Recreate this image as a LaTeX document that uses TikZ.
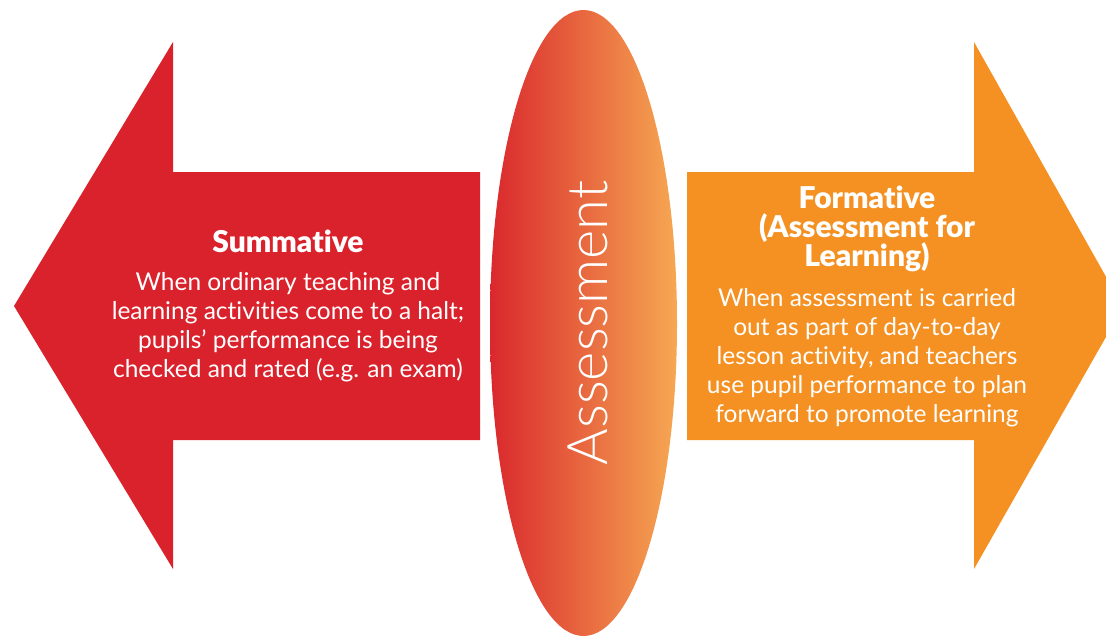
\documentclass[tikz,border=0pt]{standalone}
\usepackage{fontspec}
\setmainfont{Lato}[Ligatures={NoCommon}]
\newfontfamily\headfont{Lato Black}[Ligatures={NoCommon}]
\newfontfamily\lightfont{Lato Light}[Ligatures={NoCommon}]
\definecolor{sumred}{RGB}{218,34,44}
\definecolor{formorange}{RGB}{244,145,34}
\definecolor{ellleft}{RGB}{218,40,45}
\definecolor{ellmid}{RGB}{232,100,58}
\definecolor{ellright}{RGB}{246,168,82}
\tikzset{
  bodytext/.style={text=white, align=center, font=\fontsize{24.5}{28.8}\selectfont, inner sep=0pt},
  headtext/.style={text=white, align=center, font=\headfont\fontsize{30}{29}\selectfont, inner sep=0pt},
  titletext/.style={text=white, font=\lightfont\fontsize{56}{60}\selectfont, inner sep=0pt, rotate=90}
}
\begin{document}
\begin{tikzpicture}[x=1pt,y=-1pt]
\clip (0,0) rectangle (1106,637);
\fill[white] (0,0) rectangle (1106,637);
\fill[sumred] (480,172) -- (173,172) -- (173,42) -- (14,306) -- (173,569) -- (173,440) -- (480,440) -- cycle;
\fill[formorange] (687,172) -- (974,172) -- (974,42) -- (1123,307) -- (974,569) -- (974,440) -- (687,440) -- cycle;
\shade[left color=ellleft, middle color=ellmid, right color=ellright] (583.5,323) ellipse [x radius=93.5, y radius=313];
\node[titletext] (assess) at (588,323) {Assessment};
\node[headtext, anchor=base] (sumhead) at (288,252) {Summative};
\node[bodytext, anchor=base] (sumbody) at (288,377) {When ordinary teaching and\\learning activities come to a halt;\\pupils’ performance is being\\checked and rated (e.g. an exam)};
\node[headtext, anchor=base] (formhead) at (867,266) {Formative\\(Assessment for\\Learning)};
\node[bodytext, anchor=base] (formbody) at (867,422) {When assessment is carried\\out as part of day-to-day\\lesson activity, and teachers\\use pupil performance to plan\\forward to promote learning};
\end{tikzpicture}
\end{document}
